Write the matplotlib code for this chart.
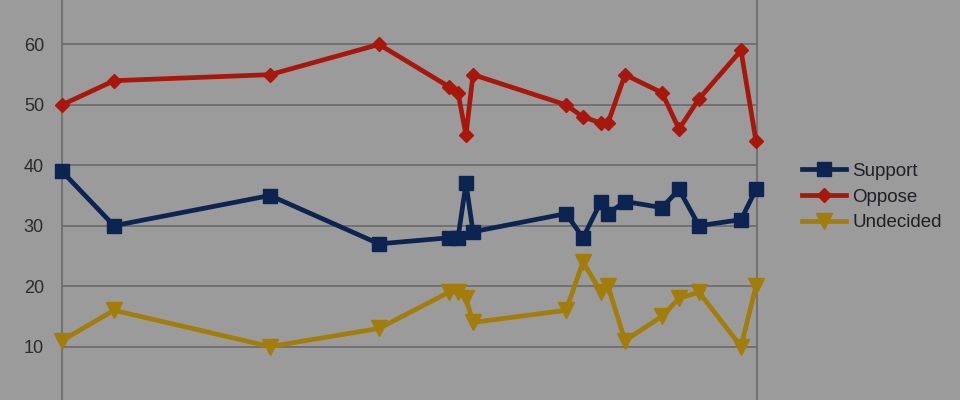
import matplotlib
matplotlib.use("Agg")
import matplotlib.pyplot as plt

# Days since first poll (x positions)
days = [0, 52, 208, 317, 387, 396, 404, 411, 504, 521, 539, 546, 563, 600, 617, 637, 679, 694]
support = [39, 30, 35, 27, 28, 28, 37, 29, 32, 28, 34, 32, 34, 33, 36, 30, 31, 36]
oppose = [50, 54, 55, 60, 53, 52, 45, 55, 50, 48, 47, 47, 55, 52, 46, 51, 59, 44]
undecided = [11, 16, 10, 13, 19, 19, 18, 14, 16, 24, 19, 20, 11, 15, 18, 19, 10, 20]
y_ticks = [0, 10, 20, 30, 40, 50, 60]

bg = "#9b9b9b"
fig = plt.figure(figsize=(9.6, 4.0), dpi=100, facecolor=bg)
# axes extends beyond figure (reference is a crop)
ax = fig.add_axes([62/960, -7/400, 695/960, 423/400])
ax.set_facecolor(bg)

ax.plot(days, support, color="#0b2452", lw=3.4, marker="s", ms=10, label="Support", zorder=3, clip_on=False)
ax.plot(days, oppose, color="#a8170b", lw=3.4, marker="D", ms=7.5, label="Oppose", zorder=3, clip_on=False)
ax.plot(days, undecided, color="#a27d0c", lw=3.4, marker="v", ms=11, label="Undecided", zorder=3, clip_on=False)

ax.set_xlim(0, 695)
ax.set_ylim(0, 70)
ax.set_yticks(y_ticks)
ax.set_yticklabels([str(v) for v in y_ticks])
ax.set_xticks([])
ax.yaxis.grid(True, color="#6a6a6a", lw=1.2)
ax.set_axisbelow(True)
ax.tick_params(axis="y", length=0, pad=13, labelsize=13, labelcolor="#2b2b2b")
for lbl in ax.get_yticklabels():
    lbl.set_fontfamily("Liberation Sans")
for s in ["left", "right", "top", "bottom"]:
    ax.spines[s].set_color("#6a6a6a")
    ax.spines[s].set_linewidth(1.2)

leg = ax.legend(loc="center left", bbox_to_anchor=(1.05, 0.5),
                frameon=False, prop={"family": "Liberation Sans", "size": 13.5},
                handlelength=2.35, labelspacing=0.45, handletextpad=0.32,
                borderpad=0, borderaxespad=0)
for t in leg.get_texts():
    t.set_color("#1f1f2a")
fig.canvas.draw()
# place legend: center at y=197 px from top, left at x=802 px
fig_h = fig.bbox.height
target_center = fig_h - 197
ax_bb = ax.get_window_extent()
yfrac = (target_center - ax_bb.y0) / ax_bb.height
xfrac = (802 - ax_bb.x0) / ax_bb.width
leg.set_bbox_to_anchor((xfrac, yfrac), transform=ax.transAxes)

fig.savefig("out.png", dpi=100, facecolor=bg)
